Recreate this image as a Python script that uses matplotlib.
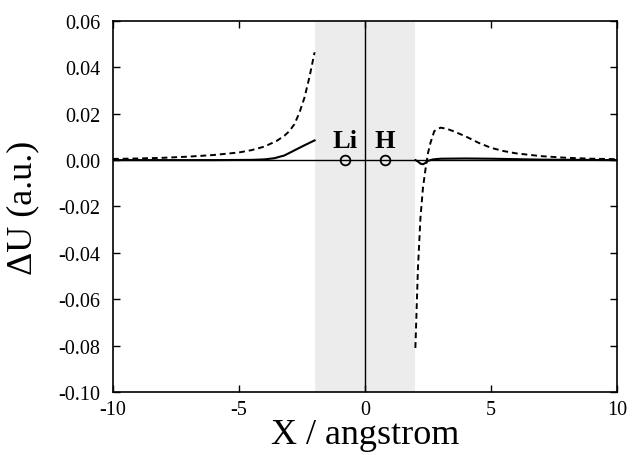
import matplotlib
matplotlib.use("Agg")
import matplotlib.pyplot as plt

plt.rcParams['font.family'] = ['Liberation Serif', 'DejaVu Serif']

# Data
dash_left_x = [-10, -9, -8, -7, -6, -5, -4.5, -4, -3.5, -3.2, -3.0, -2.8, -2.6, -2.4, -2.2, -2.0]
dash_left_y = [0.0005, 0.0007, 0.001, 0.0015, 0.0022, 0.0033, 0.0043, 0.0058, 0.0083, 0.0105,
               0.0125, 0.0155, 0.0205, 0.027, 0.036, 0.0465]
solid_left_x = [-10, -6, -4.5, -4.0, -3.6, -3.2, -2.8, -2.4, -2.0]
solid_left_y = [0.0, 0.0, 0.0001, 0.0003, 0.0008, 0.002, 0.0042, 0.0064, 0.0085]
dash_right_x = [2.0, 2.1, 2.2, 2.3, 2.4, 2.5, 2.6, 2.75, 3.0, 3.25, 3.5, 4.0, 4.5, 5.0, 5.5,
                6.0, 7.0, 8.0, 9.0, 10.0]
dash_right_y = [-0.081, -0.047, -0.025, -0.012, -0.004, 0.003, 0.0075, 0.0125, 0.014, 0.0135,
                0.0125, 0.0102, 0.0075, 0.0053, 0.0039, 0.0029, 0.0017, 0.0010, 0.0006, 0.0004]
solid_right_x = [2.0, 2.1, 2.2, 2.3, 2.4, 2.5, 2.7, 3.0, 4.0, 5.0, 6.0, 7.0, 10.0]
solid_right_y = [0.0, -0.0006, -0.0015, -0.0018, -0.0012, -0.0003, 0.0003, 0.0006, 0.0007,
                 0.0006, 0.0004, 0.0002, 0.0]
atom_x = [-0.8, 0.8]
atom_y = [0.0, 0.0]
atom_labels = ["Li", "H"]
shade_range = [-2.0, 2.0]
x_ticks = [-10, -5, 0, 5, 10]
y_ticks = [-0.10, -0.08, -0.06, -0.04, -0.02, 0.00, 0.02, 0.04, 0.06]

fig = plt.figure(figsize=(6.33, 4.56), dpi=100)
ax = fig.add_axes([0.1785, 0.1382, 0.7962, 0.8136])

ax.axvspan(shade_range[0], shade_range[1], color='#ececec', lw=0, zorder=0)
ax.axhline(0, color='black', lw=1.0, zorder=1)
ax.axvline(0, color='black', lw=1.0, zorder=1)

dash = (0, (3.0, 2.0))
ax.plot(dash_left_x, dash_left_y, color='black', lw=1.4, ls=dash, zorder=3)
ax.plot(dash_right_x, dash_right_y, color='black', lw=1.4, ls=dash, zorder=3)
ax.plot(solid_left_x, solid_left_y, color='black', lw=1.5, zorder=3)
ax.plot(solid_right_x, solid_right_y, color='black', lw=1.5, zorder=3)

ax.plot(atom_x, atom_y, 'o', ms=7, mfc='none', mec='black', mew=1.3, ls='none', zorder=4)
for xv, yv, lab in zip(atom_x, atom_y, atom_labels):
    ax.annotate(lab, (xv, yv), xytext=(0, 6), textcoords='offset points',
                ha='center', va='bottom', fontsize=19, fontweight='bold')

ax.set_xlim(-10, 10)
ax.set_ylim(-0.10, 0.06)
ax.set_xticks(x_ticks)
ax.set_xticklabels([str(v) for v in x_ticks])
ax.set_yticks(y_ticks)
ax.set_yticklabels([f"{v:.2f}" for v in y_ticks])
ax.tick_params(direction='in', top=True, right=True, length=5, width=1.0,
               labelsize=14.5)
ax.tick_params(axis='y', pad=9)
ax.tick_params(axis='x', pad=6)
for s in ax.spines.values():
    s.set_linewidth(1.2)

ax.set_xlabel("X / angstrom", fontsize=26, labelpad=-1)
ax.set_ylabel("ΔU (a.u.)", fontsize=26, labelpad=14)

fig.savefig("out.png", dpi=100)
